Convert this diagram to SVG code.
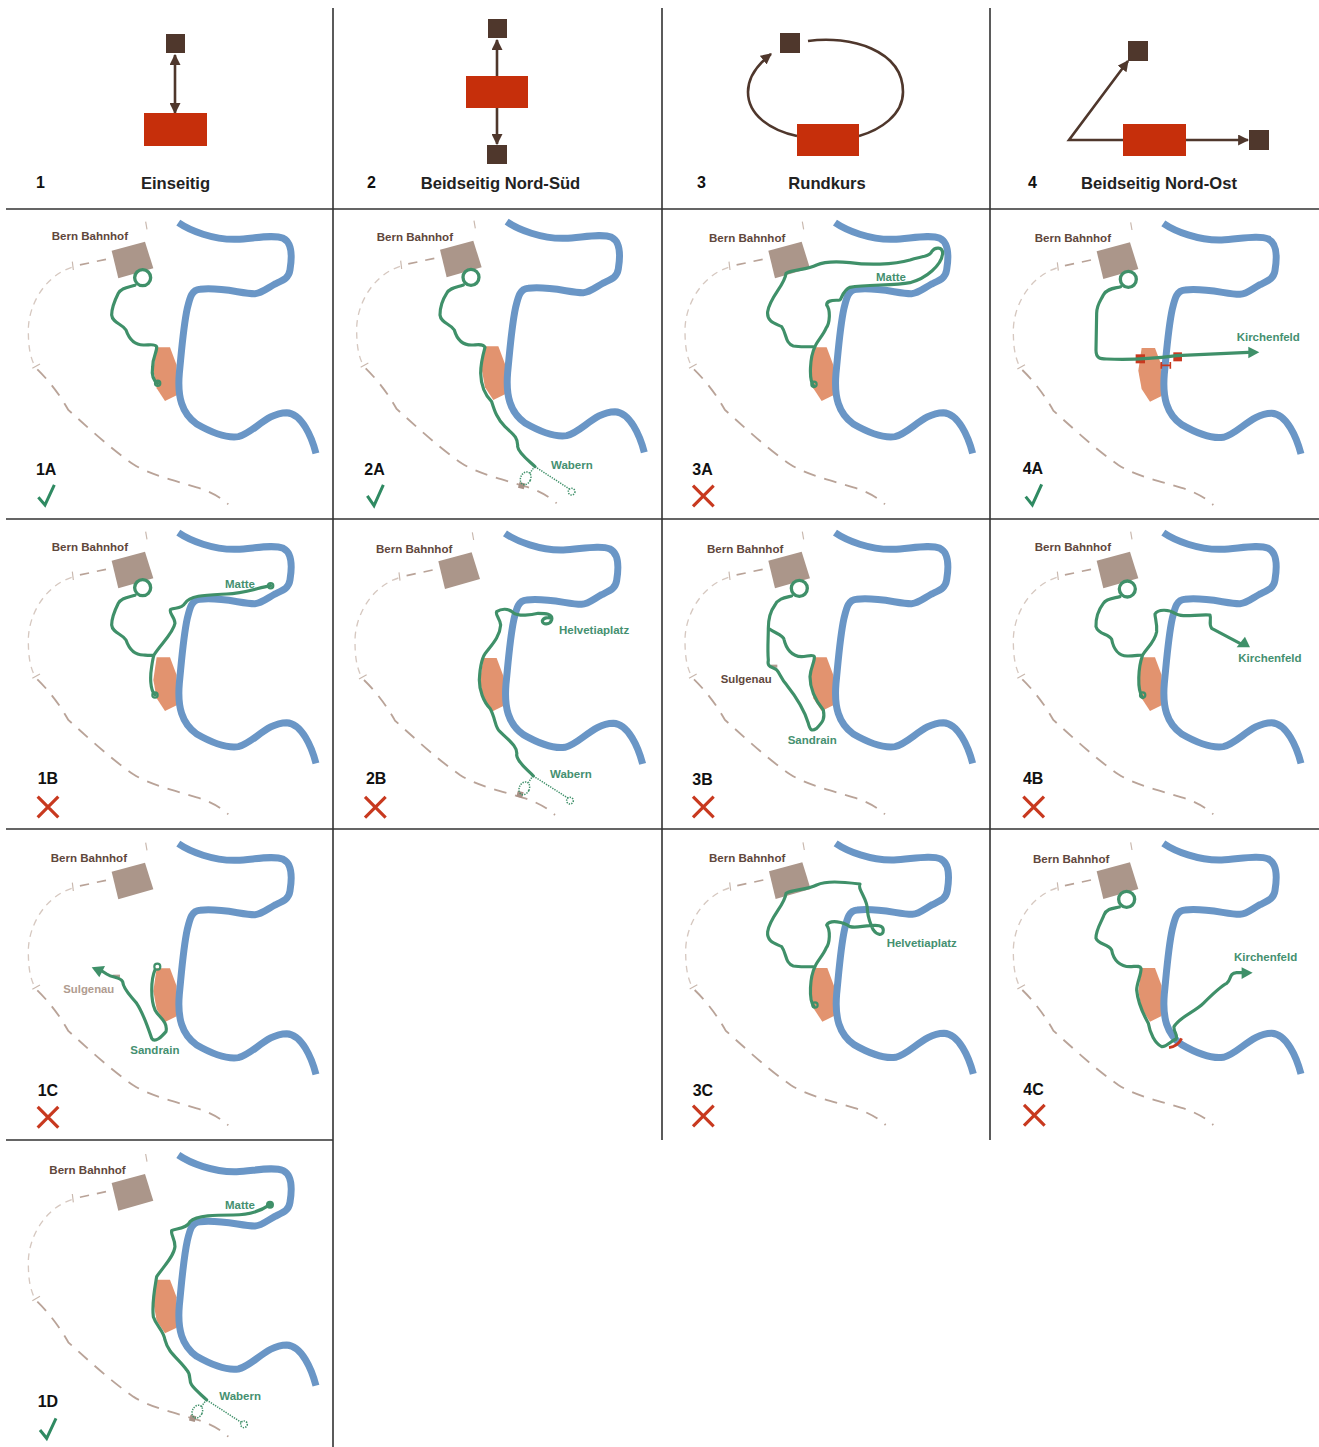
<svg xmlns="http://www.w3.org/2000/svg" width="1319" height="1447" viewBox="0 0 1319 1447">
<style>
text{font-family:"Liberation Sans",Arial,sans-serif;font-weight:700}
.grid{stroke:#333;stroke-width:1.6;fill:none}
.dk{fill:#4f372c}.rd{fill:#c62f0b}
.ar{stroke:#4f372c;stroke-width:2.6;fill:none}
.num{font-size:16px;fill:#111}
.ttl{font-size:16.6px;fill:#222;text-anchor:middle}
.id{font-size:48px;fill:#111}
.bb{font-size:34.7px;fill:#5f473c}
.gl{font-size:34.5px;fill:#459070}
.tl{font-size:34px;fill:#b09c90}
.br{font-size:34px;fill:#5f473c}
.r{fill:none;stroke:#3f9069;stroke-width:9.5;stroke-linecap:round;stroke-linejoin:round}
.s{fill:#fff;stroke:#3f9069;stroke-width:10}
.e{fill:none;stroke:#3f9069;stroke-width:6.5}
.d{fill:none;stroke:#3f9069;stroke-width:4.5;stroke-dasharray:4 3.5}
.ok{fill:none;stroke:#2f8a62;stroke-width:9}
.no{fill:none;stroke:#c8391f;stroke-width:9.5}
.ag{fill:#3f9069}
.rb{fill:#c8391f}
.sq{fill:#a89186}
.t1{fill:none;stroke:#b9a398;stroke-width:5.5;stroke-dasharray:38 27}
.t0{fill:none;stroke:#b9a398;stroke-width:5;stroke-dasharray:28 24}
.t2{fill:none;stroke:#d6c8c0;stroke-width:4;stroke-dasharray:20 16}
</style>
<defs>
<marker id="ah" viewBox="0 0 10 10" refX="9" refY="5" markerWidth="11" markerHeight="11" markerUnits="userSpaceOnUse" orient="auto-start-reverse"><path d="M0,0L10,5L0,10Z" fill="#4f372c"/></marker>
<g id="basemap">
<path d="M335,122L435,95L460,175L355,205Z" fill="#ab968a"/>
<path d="M470,412L510,412L530,465L530,556L495,573L470,535L460,480Z" fill="#e2936f"/>
<path d="M535,38C570,62 640,90 710,88C760,86 820,72 850,85C880,100 875,150 870,180C866,205 850,210 825,222C800,236 785,250 765,251C730,252 660,230 600,238C575,240 570,262 562,295C550,350 545,420 538,490C532,560 545,610 590,642C630,665 680,685 715,680C760,670 800,608 860,608C905,610 935,680 948,730" fill="none" stroke="#6a96c6" stroke-width="21"/>
<path d="M318,148L225,168" class="t0"/>
<path d="M215,172C130,200 85,290 85,360C85,410 90,440 105,470" class="t2"/>
<path d="M112,478C145,510 180,555 205,600C250,640 330,715 400,763C450,795 520,810 590,832C635,845 665,865 685,883" class="t1"/>
<path d="M437,35L441,58M217,155L220,180M97,475L120,462" fill="none" stroke="#c9b8ae" stroke-width="3.500"/>
</g>
</defs>

<g id="grid" class="grid">
<path d="M6,209H1319M6,519H1319M6,829H1319M6,1140H333"/>
<path d="M333,8V1447M662,8V1140M990,8V1140"/>
</g>

<g id="connectors">
<path class="ar" marker-start="url(#ah)" marker-end="url(#ah)" d="M175,55V113"/>
<path class="ar" marker-start="url(#ah)" d="M497,40V76"/>
<path class="ar" marker-end="url(#ah)" d="M497,108V144"/>
<path class="ar" d="M808,41C850,35 903,50 903,92C903,115 880,130 859,136"/>
<path class="ar" marker-end="url(#ah)" d="M797,136C770,130 748,115 748,92C748,78 757,65 771,54"/>
<path class="ar" marker-start="url(#ah)" d="M1128,61L1069,140H1123"/>
<path class="ar" marker-end="url(#ah)" d="M1186,140H1248"/>
</g>

<g id="type-1"><rect class="dk" x="166" y="34" width="19" height="19"/><rect class="rd" x="144" y="113" width="63" height="33"/><text class="num" x="36" y="188">1</text><text class="ttl" x="175.500" y="189">Einseitig</text></g>
<g id="type-2"><rect class="dk" x="488" y="19" width="19" height="19"/><rect class="rd" x="466" y="76" width="62" height="32"/><rect class="dk" x="487" y="145" width="20" height="19"/><text class="num" x="367" y="188">2</text><text class="ttl" x="500.500" y="189">Beidseitig Nord-Süd</text></g>
<g id="type-3"><rect class="dk" x="780" y="33" width="20" height="20"/><rect class="rd" x="797" y="124" width="62" height="32"/><text class="num" x="697" y="188">3</text><text class="ttl" x="827" y="189">Rundkurs</text></g>
<g id="type-4"><rect class="dk" x="1128" y="41" width="20" height="20"/><rect class="rd" x="1123" y="124" width="63" height="32"/><rect class="dk" x="1249" y="130" width="20" height="20"/><text class="num" x="1028" y="188">4</text><text class="ttl" x="1159" y="189">Beidseitig Nord-Ost</text></g>

<g id="panel-1A" transform="translate(0,210) scale(.3333)">
<use href="#basemap"/>
<text class="bb" x="155" y="90">Bern Bahnhof</text>
<path class="r" d="M405,226C385,232 365,232 355,250C345,270 335,295 335,315C338,340 365,340 378,360C385,380 400,405 430,405C445,406 465,400 470,410C472,425 458,440 458,470C455,490 458,510 473,520"/>
<circle class="s" cx="428" cy="203" r="24"/><circle class="e" cx="473" cy="520" r="8"/>
<text class="id" x="108" y="795">1A</text><path class="ok" d="M115,862L135,885L163,825"/>
</g>

<g id="panel-1B" transform="translate(0,520) scale(.3333)">
<use href="#basemap"/>
<text class="bb" x="155" y="93">Bern Bahnhof</text>
<path class="r" d="M405,226C385,232 365,232 355,250C345,270 335,295 335,315C338,340 365,340 378,360C385,380 400,405 430,405C445,406 455,407 462,405C480,375 520,340 525,310C525,290 505,280 512,268C525,262 545,268 555,250C570,225 620,225 680,222C730,220 770,205 812,197M465,525C450,510 450,470 455,440C458,420 460,410 462,405"/>
<circle class="s" cx="428" cy="203" r="24"/><circle class="e" cx="465" cy="525" r="8"/><circle class="e" cx="812" cy="197" r="8"/>
<text class="gl" x="675" y="204">Matte</text>
<text class="id" x="113" y="793">1B</text><path class="no" d="M113,830L175,892M175,830L113,892"/>
</g>

<g id="panel-1C" transform="translate(0,830) scale(.3333)">
<use href="#basemap" transform="translate(0,3)"/>
<text class="bb" x="152" y="96">Bern Bahnhof</text>
<rect x="338" y="434" width="22" height="9" fill="#b09c90"/>
<path class="r" d="M465,420C452,450 452,510 465,540C475,560 505,575 498,605C485,620 465,640 455,625C445,595 430,550 410,520C395,500 370,480 368,455C360,440 340,445 320,432C310,425 305,422 298,420"/>
<path class="ag" d="M275,412L315,408L298,442Z"/>
<circle class="e" cx="472" cy="410" r="9"/>
<text class="tl" x="190" y="488">Sulgenau</text><text class="gl" x="391" y="673">Sandrain</text>
<text class="id" x="113" y="797">1C</text><path class="no" d="M113,831L175,893M175,831L113,893"/>
</g>

<g id="panel-1D" transform="translate(0,1140) scale(.3333)">
<use href="#basemap" transform="translate(0,7)"/>
<text class="bb" x="148" y="101">Bern Bahnhof</text>
<rect class="sq" x="569" y="826" width="18" height="18" transform="rotate(15 578 835)"/>
<path class="r" d="M810,194C780,215 745,225 700,225C650,225 590,225 570,245C560,268 525,265 515,272C512,285 525,295 525,320C522,350 490,380 470,410C465,440 455,490 460,530C470,560 490,570 495,600C505,640 535,655 560,690C575,705 565,720 575,735C585,750 605,765 620,780"/>
<circle cx="810" cy="194" r="12" class="ag"/>
<path class="d" d="M620,780L725,848M615,785L603,802"/>
<ellipse class="d" cx="592" cy="815" rx="15" ry="20" transform="rotate(25 592 815)"/><circle class="d" cx="732" cy="853" r="10"/>
<text class="gl" x="675" y="206">Matte</text><text class="gl" x="658" y="780">Wabern</text>
<text class="id" x="113" y="800">1D</text><path class="ok" d="M120,870L140,895L168,835"/>
</g>

<g id="panel-2A" transform="translate(335,210) scale(.3333)">
<use href="#basemap" transform="translate(-20,-3)"/>
<text class="bb" x="125" y="92">Bern Bahnhof</text>
<rect class="sq" x="551" y="818" width="18" height="18" transform="rotate(15 560 827)"/>
<path class="r" d="M385,225C365,232 345,232 335,250C322,270 315,295 315,315C318,340 345,340 358,360C365,385 380,405 410,405C425,405 445,400 450,412C445,430 437,460 437,490C438,530 455,560 470,575C478,600 485,625 510,650C530,670 550,680 548,710C550,730 585,755 600,770"/>
<circle class="s" cx="408" cy="202" r="24"/>
<path class="d" d="M600,770L705,838M595,775L583,792"/>
<ellipse class="d" cx="572" cy="805" rx="15" ry="20" transform="rotate(25 572 805)"/><circle class="d" cx="710" cy="845" r="10"/>
<text class="gl" x="648" y="777">Wabern</text>
<text class="id" x="88" y="795">2A</text><path class="ok" d="M97,858L117,887L145,825"/>
</g>

<g id="panel-2B" transform="translate(335,520) scale(.3333)">
<use href="#basemap" transform="translate(-25,2)"/>
<text class="bb" x="123" y="99">Bern Bahnhof</text>
<rect class="sq" x="546" y="814" width="18" height="18" transform="rotate(15 555 823)"/>
<path class="r" d="M595,768C580,750 548,730 545,705C550,680 520,660 495,635C480,625 482,595 465,565C445,545 433,510 433,480C435,440 440,410 455,395C470,375 495,350 497,315C495,295 480,285 485,275C500,265 520,265 535,278C550,290 590,285 610,280C630,280 655,280 650,300C645,315 622,315 622,303C625,292 640,292 650,295"/>
<path class="d" d="M595,768L700,835M590,773L580,788"/>
<ellipse class="d" cx="568" cy="805" rx="15" ry="20" transform="rotate(25 568 805)"/><circle class="d" cx="705" cy="842" r="10"/>
<text class="gl" x="672" y="342">Helvetiaplatz</text><text class="gl" x="645" y="773">Wabern</text>
<text class="id" x="93" y="792">2B</text><path class="no" d="M90,831L152,893M152,831L90,893"/>
</g>

<g id="panel-3A" transform="translate(660,210) scale(.3333)">
<use href="#basemap" transform="translate(-10,0)"/>
<text class="bb" x="147" y="96">Bern Bahnhof</text>
<path class="r" d="M462,530C445,510 450,440 465,410C440,410 420,412 400,408C375,400 380,370 365,350C345,340 320,335 323,305C330,260 375,225 378,190C400,178 440,180 470,165C500,152 540,155 570,158C620,165 700,165 750,150C780,140 810,140 815,125C825,110 848,110 848,130C845,165 800,205 750,218C700,228 620,222 570,232C550,240 545,265 540,270C525,272 500,268 500,285C512,300 510,340 498,355C490,375 470,395 465,410"/>
<circle class="e" cx="462" cy="523" r="8"/>
<text class="gl" x="648" y="212">Matte</text>
<text class="id" x="97" y="795">3A</text><path class="no" d="M99,827L161,889M161,827L99,889"/>
</g>

<g id="panel-3B" transform="translate(660,520) scale(.3333)">
<use href="#basemap" transform="translate(-10,0)"/>
<text class="bb" x="141" y="98">Bern Bahnhof</text>
<rect x="332" y="434" width="20" height="9" fill="#b09c90"/>
<path class="r" d="M395,228C375,233 355,235 345,255C330,275 325,300 325,325C345,340 370,345 372,358C378,385 395,410 425,410C440,410 460,402 463,410C465,425 452,440 450,470C450,510 470,545 490,570C495,595 490,605 470,625C455,635 450,630 445,610C430,560 400,520 380,495C365,480 360,460 350,450C340,440 320,445 325,420C322,390 325,355 325,325"/>
<circle class="s" cx="418" cy="205" r="24"/>
<text class="br" x="182" y="490">Sulgenau</text><text class="gl" x="383" y="673">Sandrain</text>
<text class="id" x="97" y="795">3B</text><path class="no" d="M99,830L161,892M161,830L99,892"/>
</g>

<g id="panel-3C" transform="translate(660,830) scale(.3333)">
<use href="#basemap" transform="translate(-8,2)"/>
<text class="bb" x="147" y="97">Bern Bahnhof</text>
<path class="r" d="M462,530C445,510 450,440 465,410C440,410 420,412 400,408C375,400 380,370 365,350C345,340 320,335 323,305C330,260 375,225 378,190C400,178 440,180 470,165C500,152 540,155 600,162C590,175 625,210 622,240C625,265 630,280 640,300C650,315 670,320 670,300C670,285 650,285 630,287C610,287 590,295 570,290C550,275 510,268 500,285C512,300 510,340 498,355C490,375 470,395 465,410"/>
<circle class="e" cx="465" cy="525" r="8"/>
<text class="gl" x="680" y="352">Helvetiaplatz</text>
<text class="id" x="98" y="797">3C</text><path class="no" d="M99,827L161,889M161,827L99,889"/>
</g>

<g id="panel-4A" transform="translate(990,210) scale(.3333)">
<use href="#basemap" transform="translate(-15,2)"/>
<text class="bb" x="134" y="96">Bern Bahnhof</text>
<rect class="rb" x="437" y="433" width="28" height="27"/><rect class="rb" x="550" y="427" width="26" height="27"/>
<path d="M512,466H543M514,456V476M541,456V476" fill="none" stroke="#c8391f" stroke-width="5"/>
<path class="r" d="M392,230C375,235 350,235 340,255C330,275 320,285 320,310L318,420C318,445 330,447 350,447C400,450 480,447 560,437L775,427"/>
<path class="ag" d="M775,410L808,427L775,445Z"/>
<circle class="s" cx="415" cy="208" r="24"/>
<text class="gl" x="740" y="393">Kirchenfeld</text>
<text class="id" x="98" y="793">4A</text><path class="ok" d="M107,860L127,885L155,823"/>
</g>

<g id="panel-4B" transform="translate(990,520) scale(.3333)">
<use href="#basemap" transform="translate(-15,0)"/>
<text class="bb" x="134" y="93">Bern Bahnhof</text>
<path class="r" d="M390,230C370,235 350,235 340,250C325,270 317,295 318,320C325,345 355,340 365,358C370,385 385,410 415,408C430,408 450,405 458,405C470,385 495,365 500,335C502,310 495,295 495,282C505,265 540,270 555,280C575,295 620,282 660,285C665,300 655,310 665,325L750,370M458,533C440,510 445,440 458,405"/>
<path class="ag" d="M765,350L780,382L740,382Z"/>
<circle class="s" cx="412" cy="207" r="24"/><circle class="e" cx="458" cy="525" r="8"/>
<text class="gl" x="745" y="426">Kirchenfeld</text>
<text class="id" x="99" y="793">4B</text><path class="no" d="M100,830L162,892M162,830L100,892"/>
</g>

<g id="panel-4C" transform="translate(990,830) scale(.3333)">
<use href="#basemap" transform="translate(-15,2)"/>
<text class="bb" x="129" y="99">Bern Bahnhof</text>
<path class="r" d="M388,231C370,235 350,235 342,255C335,275 317,300 318,325C325,345 355,340 365,360C370,390 390,410 420,410C435,410 450,405 453,415C455,430 440,460 440,480C445,530 465,560 475,580C480,610 495,640 515,650C530,652 545,630 558,628C565,615 550,605 552,590C570,560 615,545 640,520C665,495 690,470 710,460C725,450 715,430 740,428L755,428"/>
<path d="M537,653C555,650 568,640 575,625" fill="none" stroke="#c8391f" stroke-width="8"/>
<path class="ag" d="M755,412L788,428L755,447Z"/>
<circle class="s" cx="410" cy="208" r="24"/>
<text class="gl" x="732" y="392">Kirchenfeld</text>
<text class="id" x="100" y="795">4C</text><path class="no" d="M102,825L164,887M164,825L102,887"/>
</g>
</svg>
